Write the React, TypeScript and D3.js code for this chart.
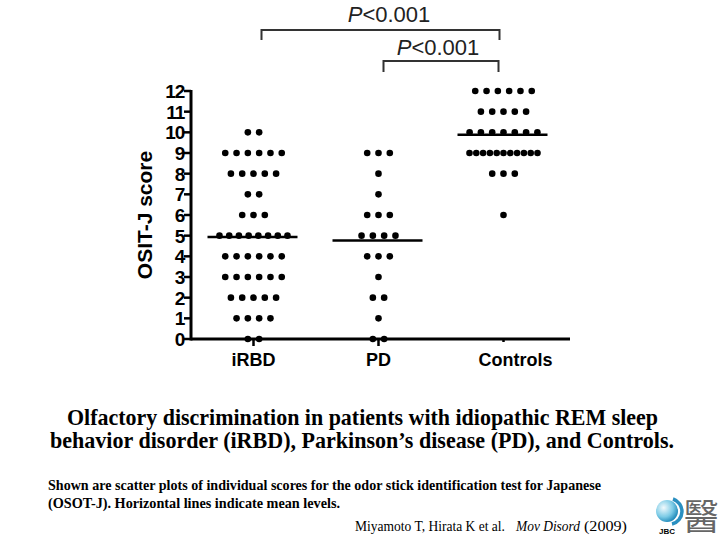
import React from "react";
import * as d3 from "d3";

const categories = ["iRBD", "PD", "Controls"];
const scoreTicks = [0, 1, 2, 3, 4, 5, 6, 7, 8, 9, 10, 11, 12];
// number of subjects at each score 0..12
const iRBDCounts = [2, 4, 5, 6, 6, 8, 3, 2, 5, 6, 2, 0, 0];
const pdCounts = [2, 1, 2, 1, 3, 4, 3, 1, 1, 3, 0, 0, 0];
const controlCounts = [0, 0, 0, 0, 0, 0, 1, 0, 3, 11, 7, 5, 6];
const groupCounts = [iRBDCounts, pdCounts, controlCounts];
const pLabels = ["<0.001", "<0.001"];

const W = 720;
const H = 540;

export default function App() {
  const y = d3.scaleLinear().domain([0, 12]).range([339, 91]);
  const x = d3.scalePoint<string>().domain(categories).range([191, 566]).padding(0.5);
  const axisX = 191;
  const axisRight = 570;

  const dots: { cx: number; cy: number; key: string }[] = [];
  const means: { c: string; m: number }[] = [];
  groupCounts.forEach((counts, gi) => {
    const c = categories[gi];
    const cx0 = x(c)!;
    let sum = 0;
    let n = 0;
    counts.forEach((cnt, score) => {
      sum += cnt * score;
      n += cnt;
      if (cnt === 0) return;
      const s = cnt > 1 ? Math.min(11.3, 68 / (cnt - 1)) : 0;
      for (let i = 0; i < cnt; i++) {
        dots.push({
          cx: cx0 + (i - (cnt - 1) / 2) * s,
          cy: y(score),
          key: `${gi}-${score}-${i}`,
        });
      }
    });
    means.push({ c, m: sum / n });
  });

  const sans = "'Liberation Sans', Arial, sans-serif";
  const serif = "'Liberation Serif', 'Times New Roman', serif";

  return (
    <div style={{ position: "absolute", left: 0, top: 0 }}>
      <svg width={W} height={H} style={{ display: "block", background: "#fff" }}>
        <defs>
          <radialGradient id="logoGrad" cx="0.35" cy="0.35" r="0.7">
            <stop offset="0" stopColor="#f2fafd" />
            <stop offset="0.6" stopColor="#7ccbe6" />
            <stop offset="1" stopColor="#1c87b8" />
          </radialGradient>
        </defs>

        {/* significance brackets */}
        <g stroke="#333" strokeWidth={2} fill="none">
          <path d={`M${x("iRBD")! + 8},40 V30 H${x("Controls")! - 4} V40`} />
          <path d={`M${x("PD")! + 5},72 V61 H${x("Controls")! - 5} V72`} />
        </g>
        <text x={389} y={22} textAnchor="middle" fontFamily={sans} fontSize={22} fill="#222">
          <tspan fontStyle="italic">P</tspan>
          {pLabels[0]}
        </text>
        <text x={438} y={55} textAnchor="middle" fontFamily={sans} fontSize={22} fill="#222">
          <tspan fontStyle="italic">P</tspan>
          {pLabels[1]}
        </text>

        {/* y axis */}
        <line x1={axisX} x2={axisX} y1={y(12) - 1} y2={y(0) + 1.5} stroke="#000" strokeWidth={3} />
        {scoreTicks.map((t) => (
          <g key={t}>
            <line x1={axisX - 7} x2={axisX} y1={y(t)} y2={y(t)} stroke="#000" strokeWidth={2.5} />
            <text
              x={axisX - 7}
              y={y(t)}
              dy="0.37em"
              textAnchor="end"
              fontFamily={sans}
              fontWeight="bold"
              fontSize={19}
              letterSpacing={-1.2}
              fill="#000"
            >
              {t}
            </text>
          </g>
        ))}
        <text
          transform={`translate(152,${y(6)}) rotate(-90)`}
          textAnchor="middle"
          fontFamily={sans}
          fontWeight="bold"
          fontSize={21}
          fill="#000"
        >
          OSIT-J score
        </text>

        {/* x axis */}
        <line x1={axisX} x2={axisRight} y1={y(0)} y2={y(0)} stroke="#000" strokeWidth={3} />
        {categories.map((c, i) => (
          <line
            key={c}
            x1={x(c)!}
            x2={x(c)!}
            y1={y(0)}
            y2={y(0) + (i < 2 ? 7 : 3)}
            stroke="#000"
            strokeWidth={2.5}
          />
        ))}
        {categories.map((c, i) => (
          <text
            key={c}
            x={x(c)! + (i === 2 ? 12 : 0)}
            y={366}
            textAnchor="middle"
            fontFamily={sans}
            fontWeight="bold"
            fontSize={18}
            fill="#000"
          >
            {c}
          </text>
        ))}

        {/* dots */}
        {dots.map((d) => (
          <circle key={d.key} cx={d.cx} cy={d.cy} r={3.3} fill="#000" />
        ))}

        {/* mean lines */}
        {means.map((m) => (
          <line
            key={m.c}
            x1={x(m.c)! - 46}
            x2={x(m.c)! + 44}
            y1={y(m.m)}
            y2={y(m.m)}
            stroke="#000"
            strokeWidth={2.5}
          />
        ))}

        {/* caption */}
        <text
          x={67}
          y={425}
          fontFamily={serif}
          fontWeight="bold"
          fontSize={23}
          textLength={591}
          lengthAdjust="spacingAndGlyphs"
          fill="#000"
        >
          Olfactory discrimination in patients with idiopathic REM sleep
        </text>
        <text
          x={50}
          y={448}
          fontFamily={serif}
          fontWeight="bold"
          fontSize={23}
          textLength={624}
          lengthAdjust="spacingAndGlyphs"
          fill="#000"
        >
          behavior disorder (iRBD), Parkinson’s disease (PD), and Controls.
        </text>
        <text
          x={48}
          y={490}
          fontFamily={serif}
          fontWeight="bold"
          fontSize={14}
          textLength={553}
          lengthAdjust="spacingAndGlyphs"
          fill="#000"
        >
          Shown are scatter plots of individual scores for the odor stick identification test for Japanese
        </text>
        <text
          x={48}
          y={508}
          fontFamily={serif}
          fontWeight="bold"
          fontSize={14}
          textLength={292}
          lengthAdjust="spacingAndGlyphs"
          fill="#000"
        >
          (OSOT-J). Horizontal lines indicate mean levels.
        </text>
        <text x={355} y={531} fontFamily={serif} fontSize={15} textLength={150} lengthAdjust="spacingAndGlyphs" fill="#000">
          Miyamoto T, Hirata K et al.
        </text>
        <text
          x={516}
          y={531}
          fontFamily={serif}
          fontStyle="italic"
          fontSize={15}
          textLength={64}
          lengthAdjust="spacingAndGlyphs"
          fill="#000"
        >
          Mov Disord
        </text>
        <text x={584} y={531} fontFamily={serif} fontSize={15} textLength={43} lengthAdjust="spacingAndGlyphs" fill="#000">
          (2009)
        </text>

        {/* logo */}
        <g>
          <circle cx={667} cy={511} r={11} fill="url(#logoGrad)" />
          <path d="M673,499 A13,13 0 0 1 672,524" stroke="#2a8fc0" strokeWidth={3.5} fill="none" />
          <text x={667} y={534} textAnchor="middle" fontFamily={sans} fontWeight="bold" fontSize={8} fill="#000">
            JBC
          </text>
          <text
            x={701}
            y={530}
            textAnchor="middle"
            fontFamily="'Noto Sans CJK JP', sans-serif"
            fontSize={36}
            fill="#666"
          >
            醫
          </text>
        </g>
      </svg>
    </div>
  );
}
